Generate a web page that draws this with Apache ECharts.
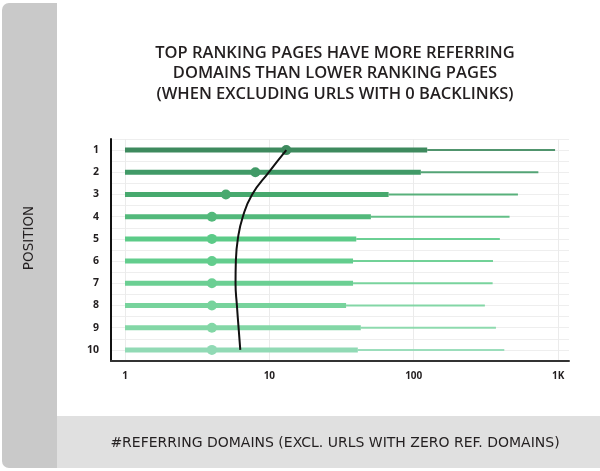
<!DOCTYPE html>
<html>
<head>
<meta charset="utf-8">
<script src="https://cdn.jsdelivr.net/npm/echarts@6/dist/echarts.min.js"></script>
<style>
html,body{margin:0;padding:0;background:#fff;}
#chart{width:600px;height:471px;}
</style>
</head>
<body>
<div id="chart"></div>
<script>
// ---- data ----
const positions = [1, 2, 3, 4, 5, 6, 7, 8, 9, 10];
const lowerValues = [1, 1, 1, 1, 1, 1, 1, 1, 1, 1];
const upperValues = [124, 112, 67, 50.5, 40, 38, 38, 34, 43, 41];
const maxValues = [953, 730, 527, 461, 395, 354, 352, 311, 371, 424];
const medianValues = [13.1, 8.0, 5.0, 4.0, 4.0, 4.0, 4.0, 4.0, 4.0, 4.0];
const trendValues = [13.1, 9.9, 7.6, 6.55, 6.05, 5.86, 5.83, 5.96, 6.12, 6.29];
const xTickValues = [1, 10, 100, 1000];
const xTickLabels = ['1', '10', '100', '1K'];

const palette = ['#3e8a5e', '#419a67', '#47a96e', '#53b97b', '#5ccb88',
                 '#63cd8d', '#6bcf93', '#77d39c', '#83d7a6', '#91dab5'];

const rows = positions.map((p, i) => [p, lowerValues[i], upperValues[i], maxValues[i], medianValues[i]]);
const trend = positions.map((p, i) => [trendValues[i], p]);

const chart = echarts.init(document.getElementById('chart'), null, {renderer: 'canvas'});
const textColor = '#231f20';

chart.setOption({
  backgroundColor: '#ffffff',
  animation: false,
  title: {
    text: 'TOP RANKING PAGES HAVE MORE REFERRING\nDOMAINS THAN LOWER RANKING PAGES\n(WHEN EXCLUDING URLS WITH 0 BACKLINKS)',
    left: 330, top: 38, textAlign: 'center',
    textStyle: {fontFamily: 'Open Sans', fontSize: 16.5, fontWeight: 600, color: textColor, lineHeight: 20.5}
  },
  graphic: [
    {type: 'rect', shape: {x: 2, y: 3, width: 55, height: 465, r: [7, 0, 0, 7]}, style: {fill: '#c9c9c9'}, z: -10},
    {type: 'rect', shape: {x: 57, y: 416, width: 543, height: 52}, style: {fill: '#e0e0e0'}, z: -10},
    {type: 'text', x: 29.5, y: 238, rotation: Math.PI / 2,
     style: {text: 'POSITION', fill: textColor, font: '13.5px "DejaVu Sans"', align: 'center', verticalAlign: 'middle'}},
    {type: 'text', x: 335, y: 443.5,
     style: {text: '#REFERRING DOMAINS (EXCL. URLS WITH ZERO REF. DOMAINS)', fill: textColor, font: '14px "DejaVu Sans"', align: 'center', verticalAlign: 'middle'}}
  ],
  grid: {left: 111, right: 31, top: 139, bottom: 110, containLabel: false},
  xAxis: {
    type: 'log', min: 0.8, max: 1190,
    axisLine: {show: true, lineStyle: {color: '#333', width: 2}},
    axisTick: {show: false, customValues: xTickValues},
    axisLabel: {
      customValues: xTickValues, margin: 10,
      color: textColor, fontFamily: 'Open Sans', fontWeight: 'bold', fontSize: 10,
      formatter: v => xTickLabels[xTickValues.indexOf(Math.round(v))] ?? ''
    },
    splitLine: {show: true, lineStyle: {color: '#ebebeb', width: 1}}
  },
  yAxis: {
    type: 'value', inverse: true, min: 0.5, max: 10.5, interval: 0.5,
    axisLine: {show: true, lineStyle: {color: '#111', width: 2}},
    axisTick: {show: false},
    axisLabel: {
      margin: 12, color: textColor, fontFamily: 'Open Sans', fontWeight: 'bold', fontSize: 10.5,
      formatter: v => Number.isInteger(v) ? String(v) : ''
    },
    splitLine: {show: true, lineStyle: {color: '#eeeeee', width: 1}}
  },
  series: [
    {
      type: 'custom',
      data: rows,
      encode: {x: [1, 2, 3, 4], y: 0},
      z: 2,
      renderItem: function (params, api) {
        const y = api.value(0);
        const pLo = api.coord([api.value(1), y]);
        const pUp = api.coord([api.value(2), y]);
        const pMx = api.coord([api.value(3), y]);
        const pMd = api.coord([api.value(4), y]);
        const c = palette[params.dataIndex];
        return {
          type: 'group',
          children: [
            {type: 'line', shape: {x1: pUp[0], y1: pUp[1], x2: pMx[0], y2: pMx[1]}, style: {stroke: c, lineWidth: 2, opacity: 0.9}},
            {type: 'line', shape: {x1: pLo[0], y1: pLo[1], x2: pUp[0], y2: pUp[1]}, style: {stroke: c, lineWidth: 5}},
            {type: 'circle', shape: {cx: pMd[0], cy: pMd[1], r: 5}, style: {fill: c}}
          ]
        };
      }
    },
    {
      type: 'line',
      data: trend,
      smooth: 0.5,
      symbol: 'none',
      z: 5,
      lineStyle: {color: '#111', width: 2}
    }
  ]
});
</script>
</body>
</html>
